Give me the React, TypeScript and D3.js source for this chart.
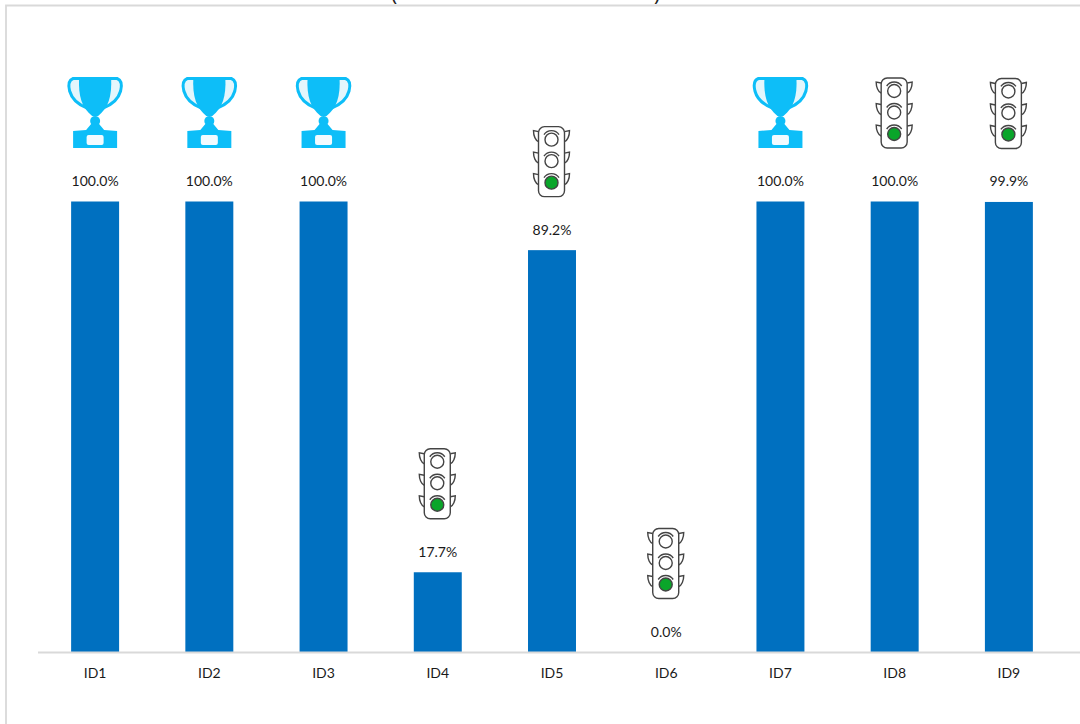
import React from "react";
import * as d3 from "d3";

const categories = ["ID1", "ID2", "ID3", "ID4", "ID5", "ID6", "ID7", "ID8", "ID9"];
const values = [100, 100, 100, 17.7, 89.2, 0, 100, 100, 99.9];
const icons = ["trophy", "trophy", "trophy", "light", "light", "light", "trophy", "light", "light"];

const W = 1080, H = 724;
const BLUE = "#0070C0";
const FONT = "Lato, 'Open Sans', sans-serif";

const x = d3.scaleBand<string>().domain(categories).range([38, 1066]).paddingInner(0.58).paddingOuter(0.29);
const y = d3.scaleLinear().domain([0, 100]).range([652, 201.5]);

function Trophy({ cx, top }: { cx: number; top: number }) {
  const c = "#0DBEF8";
  return (
    <g transform={`translate(${cx},${top})`}>
      {[1, -1].map((s) => (
        <path key={s} transform={`scale(${s},1)`}
          d="M-14,1.5 L-22,1.5 C-26,3 -27,8 -25.5,14 C-23,23 -16,28 -8,31"
          fill="#E4F6FC" stroke={c} strokeWidth={3} />
      ))}
      <path d="M-16,0 L16,0 C17,20 13,31 3,39 L-3,39 C-13,31 -17,20 -16,0Z" fill={c} />
      <circle cx={0} cy={44} r={5} fill={c} />
      <path d="M-22,54 L-9,53 L-4,47 L4,47 L9,53 L22,54 L22,71 L-22,71Z" fill={c} />
      <rect x={-8.5} y={58} width={17} height={10} rx={2} fill="#F2FBFF" />
    </g>
  );
}

function Light({ cx, top }: { cx: number; top: number }) {
  const s = "#444";
  const lamps = [13, 34.5, 56];
  return (
    <g transform={`translate(${cx - 0.5},${top})`} fill="none" stroke={s} strokeWidth={1.4}>
      {lamps.map((ly) => (
        <g key={ly}>
          <path d={`M-13,${ly - 8} L-18,${ly - 9} C-18,${ly - 4} -16,${ly + 1} -13,${ly + 2}`} />
          <path d={`M13,${ly - 8} L18,${ly - 9} C18,${ly - 4} 16,${ly + 1} 13,${ly + 2}`} />
        </g>
      ))}
      <rect x={-13} y={0} width={26} height={70} rx={6} fill="#fff" />
      {lamps.map((ly, i) => (
        <g key={ly}>
          <path d={`M-7.5,${ly - 5} A9,9 0 0 1 7.5,${ly - 5}`} />
          <circle cx={0} cy={ly} r={6.5} fill={i === 2 ? "#0AA52A" : "#fff"} />
        </g>
      ))}
    </g>
  );
}

export default function App() {
  return (
    <svg width={W} height={H} viewBox={`0 0 ${W} ${H}`}
      style={{ position: "absolute", left: 0, top: 0, background: "#fff" }} fontFamily={FONT}>
      <text x={391} y={1} fontSize={21} fill="#222" fontFamily="'Open Sans', sans-serif">(</text>
      <text x={654} y={1} fontSize={21} fill="#222" fontFamily="'Open Sans', sans-serif">)</text>
      <path d={`M6,${H} L6,5.5 L${W},5.5`} fill="none" stroke="#D9D9D9" strokeWidth={1.8} />
      {categories.map((c, i) => {
        const cx = x(c)! + x.bandwidth() / 2;
        const top = y(values[i]);
        return (
          <g key={c}>
            <rect x={x(c)} y={top} width={x.bandwidth()} height={y(0) - top} fill={BLUE} />
            <text x={cx} y={top - 15.5} textAnchor="middle" fontSize={14} fill="#1a1a1a">{values[i].toFixed(1)}%</text>
            {icons[i] === "trophy" ? <Trophy cx={cx} top={top - 124.5} /> : <Light cx={cx} top={top - 123.5} />}
            <text x={cx} y={678} textAnchor="middle" fontSize={14} fill="#1a1a1a">{c}</text>
          </g>
        );
      })}
      <line x1={38} x2={W} y1={652.5} y2={652.5} stroke="#D9D9D9" strokeWidth={1.8} />
    </svg>
  );
}
